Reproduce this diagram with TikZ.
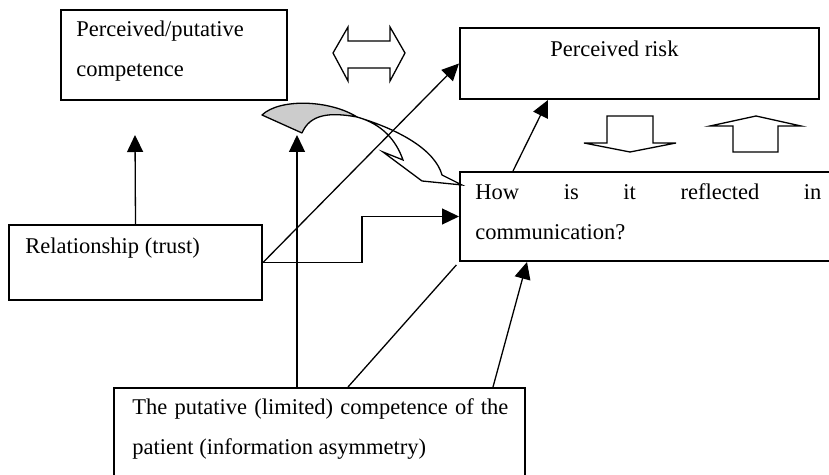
\documentclass[tikz,border=0pt]{standalone}
\usepackage{fontspec}
\setmainfont{Liberation Serif}
\usetikzlibrary{arrows.meta}

\newcommand{\boxlines}[1]{\begin{tabular}[t]{@{}l@{}}#1\end{tabular}}

\begin{document}
\begin{tikzpicture}[x=0.5pt, y=-0.5pt,
    frame/.style={draw, line width=1pt, rectangle, anchor=north west, inner sep=0pt},
    txt/.style={anchor=base west, inner sep=0pt, font=\fontsize{11.25pt}{20pt}\selectfont},
    arr/.style={line width=0.65pt, -{Triangle[length=8.5pt,width=8pt]}},
    blockarrow/.style={draw, line width=0.65pt, line join=miter}]
  \useasboundingbox (0,0) rectangle (829,475);

  % frames
  \node[frame, minimum width=113pt, minimum height=45pt] (comp) at (60,9) {};
  \node[frame, minimum width=179.5pt, minimum height=35.5pt] (risk) at (459,27) {};
  \node[frame, minimum width=190pt, minimum height=44.5pt] (comm) at (459,171) {};
  \node[frame, minimum width=126.5pt, minimum height=37.5pt] (rel) at (8,224) {};
  \node[frame, minimum width=205.5pt, minimum height=50pt] (pat) at (113,387) {};

  % texts
  \node[txt] (compText) at (76,37) {\boxlines{Perceived/putative\\competence}};
  \node[txt] (riskText) at (550,57) {Perceived risk};
  \node[txt] (commText) at (475,200)
    {\boxlines{\makebox[173pt][s]{How is it reflected in}\\communication?}};
  \node[txt] (relText) at (25,254) {Relationship (trust)};
  \node[txt] (patText) at (132,415)
    {\boxlines{\makebox[188pt][s]{The putative (limited) competence of the}\\patient (information asymmetry)}};

  % free arrow ends
  \coordinate (relTip) at (135,135);
  \coordinate (patTip) at (297,135);

  % connectors
  \draw[arr] (rel.north) -- (relTip);
  \draw[arr] ([xshift=92pt]pat.north west) -- (patTip);
  \draw[arr] (rel.east) -- (risk.west);
  \draw[arr] (rel.east) -- ++(99,0) |- (comm.west);
  \draw[arr] ([xshift=27pt]comm.north west) -- ([xshift=44.5pt]risk.south west);
  \draw[line width=0.65pt, shorten >=2pt] ([xshift=117.5pt]pat.north west) -- (comm.south west);
  \draw[arr] ([xshift=190pt]pat.north west) -- ([xshift=34pt]comm.south west);

  % twisted curved arrow
  \filldraw[fill=black!20, line width=0.65pt, line join=round]
    (262,115) .. controls (280,98) and (330,100) .. (357,117)
    .. controls (330,112) and (310,114) .. (302,133) -- cycle;
  \draw[line width=0.65pt, line join=miter]
    (357,117) .. controls (400,130) and (435,150) .. (442,175)
    -- (462,185) -- (422,181) -- (383,152) -- (403,160)
    .. controls (396,140) and (382,124) .. (357,117);

  % block arrows
  \draw[blockarrow] (333,53) -- (348,27) -- (348,41) -- (390,41) -- (390,27)
    -- (405,53) -- (390,81) -- (390,68) -- (348,68) -- (348,81) -- cycle;
  \draw[blockarrow] (607,116) -- (653,116) -- (653,143) -- (676,143)
    -- (630,152) -- (584,143) -- (607,143) -- cycle;
  \draw[blockarrow] (733,152) -- (733,126) -- (710,126) -- (756,116)
    -- (801,126) -- (778,126) -- (778,152) -- cycle;
\end{tikzpicture}
\end{document}
